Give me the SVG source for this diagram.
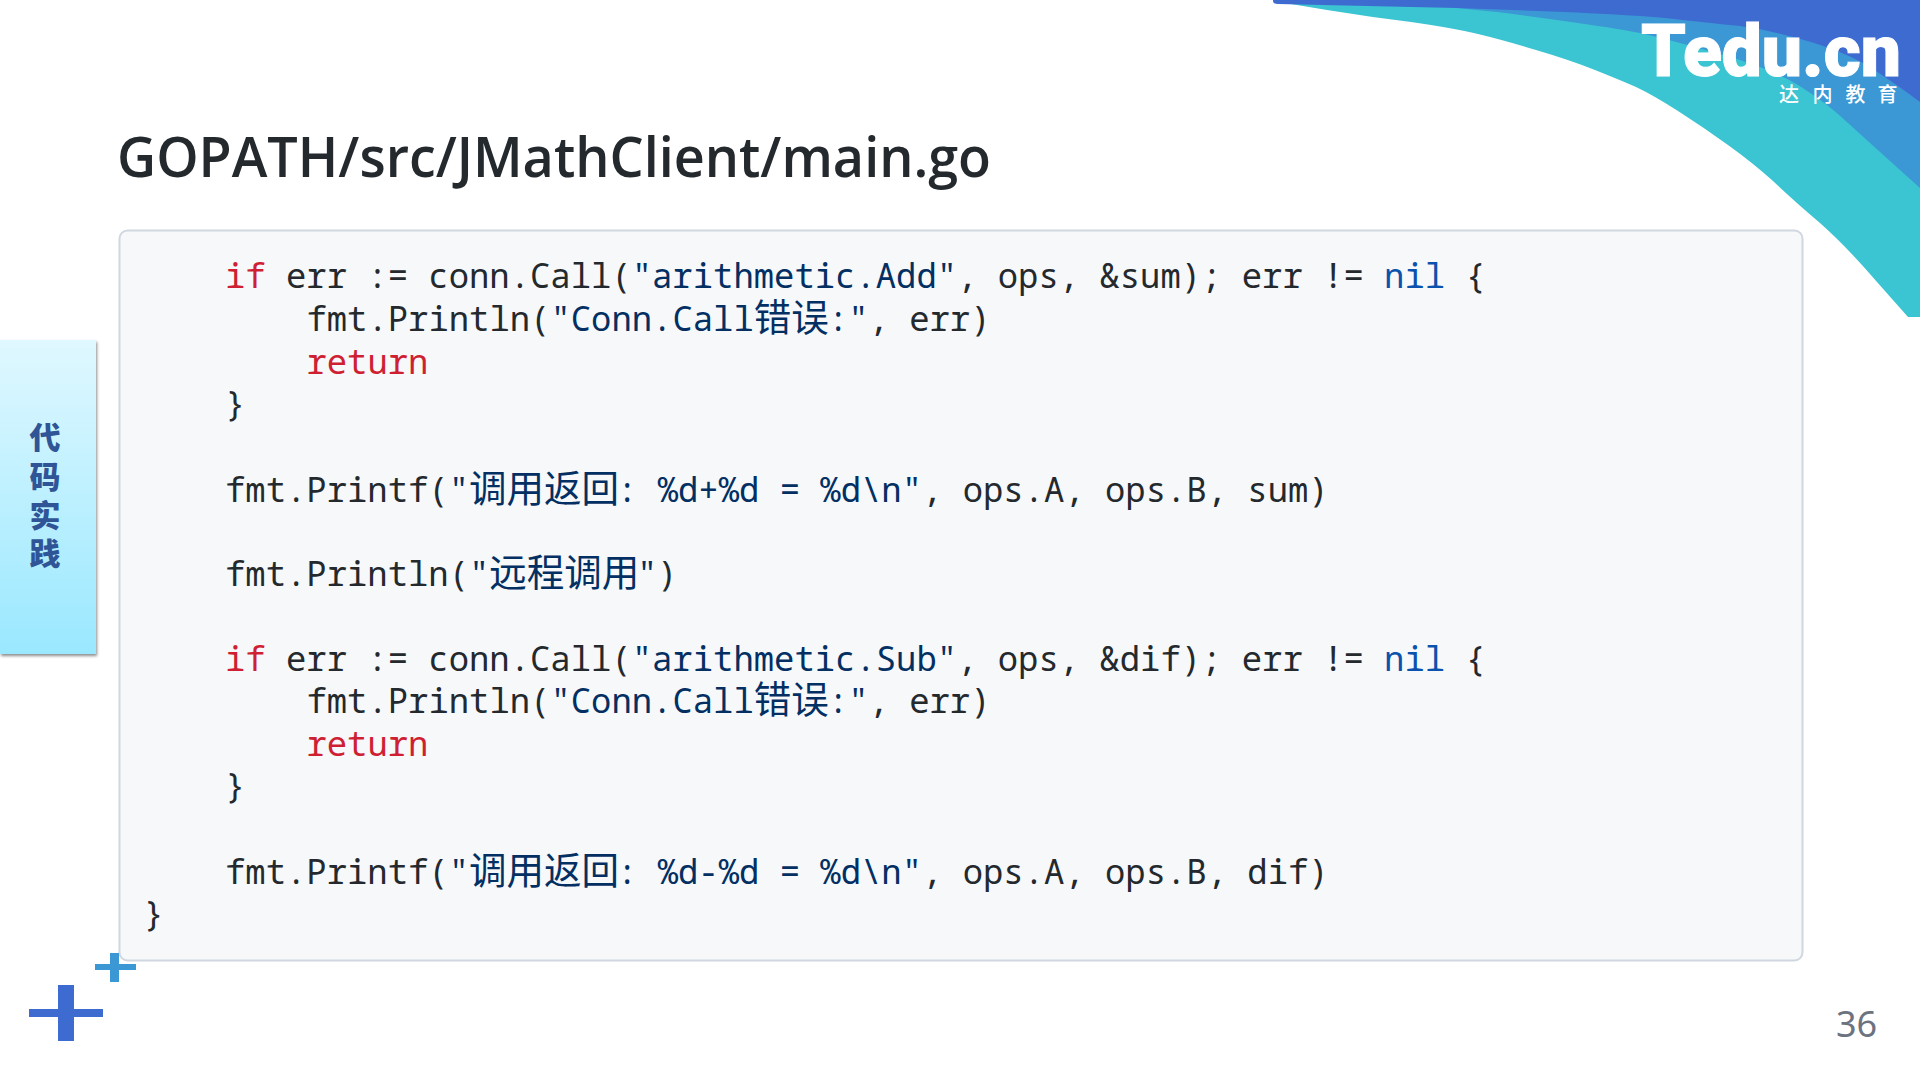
<svg xmlns="http://www.w3.org/2000/svg" width="1920" height="1080" viewBox="0 0 1920 1080">
<style>
.c{font-family:"Noto Sans Mono","DejaVu Sans Mono","Liberation Mono","Noto Sans CJK SC",monospace;font-size:33.9px;fill:#24292e;white-space:pre}
.k{fill:#cf1f33}.s{fill:#032f62}.n{fill:#0a52ad}
.z{font-family:"Noto Sans CJK SC",sans-serif;font-size:37.5px}
.t{font-family:"Noto Sans CJK SC",sans-serif;font-weight:900;font-size:31px;fill:#2f5597;text-anchor:middle}
.l{font-family:"Noto Sans CJK SC",sans-serif;font-weight:500;font-size:20px;fill:#fff;text-anchor:middle}
</style>
<defs>
<linearGradient id="tab" x1="0" y1="0" x2="0" y2="1"><stop offset="0" stop-color="#e0f8ff"/><stop offset="1" stop-color="#9ae8ff"/></linearGradient>
<filter id="sh" x="-20%" y="-5%" width="140%" height="110%"><feDropShadow dx="1" dy="2" stdDeviation="1.5" flood-color="#000" flood-opacity=".45"/></filter>
</defs>
<rect width="1920" height="1080" fill="#fff"/>
<g id="corner">
<path d="M1285 3L1327 10Q1370 17 1411 22Q1453 28 1478 34Q1503 40 1536 50Q1570 60 1595 70Q1620 80 1636 87Q1653 95 1678 111Q1703 127 1728 145Q1753 163 1773 181Q1793 200 1820 223Q1847 247 1877 282L1908 317H1920V0H1285Z" fill="#3bc4d1"/>
<path d="M1457 8L1497 12Q1537 17 1578 23Q1620 29 1645 34Q1670 40 1720 54Q1770 68 1798 85Q1827 103 1848 123Q1870 143 1920 188V0H1457Z" fill="#3b98d5"/>
<path d="M1273 0V1Q1273 4 1278 4L1457 8L1538 11Q1620 14 1665 18Q1710 23 1740 26Q1770 30 1811 42Q1853 55 1876 71Q1900 87 1920 102V0Z" fill="#3e6bd0"/>
</g>
<g id="logo">
<text x="1641" y="76" font-family="Roboto,sans-serif" font-weight="900" font-size="72" fill="#fff" stroke="#fff" stroke-width="1" textLength="260" lengthAdjust="spacingAndGlyphs">Tedu.cn</text>
<text class="l" x="1789" y="102">达</text><text class="l" x="1822.5" y="102">内</text><text class="l" x="1855.5" y="102">教</text><text class="l" x="1887.5" y="102">育</text>
</g>
<g id="title"><text x="117" y="177" font-family="'Open Sans','Noto Sans',sans-serif" font-weight="600" font-size="56" fill="#24292e" textLength="874" lengthAdjust="spacingAndGlyphs">GOPATH/src/JMathClient/main.go</text></g>
<g id="code-box">
<rect x="119.5" y="230.5" width="1683" height="730" rx="8" fill="#f6f8fa" stroke="#d0d7e0" stroke-width="2"/>
<text class="c" x="225" y="288" xml:space="preserve"><tspan class="k">if</tspan> err := conn.Call(<tspan class="s">"arithmetic.Add"</tspan>, ops, &amp;sum); err != <tspan class="n">nil</tspan> {</text>
<text class="c" x="306.4" y="330.5" xml:space="preserve">fmt.Println(<tspan class="s">"Conn.Call<tspan class="z">错误</tspan><tspan x="828">:"</tspan></tspan><tspan x="868.5">, err)</tspan></text>
<text class="c k" x="306.4" y="373.5" xml:space="preserve">return</text>
<text class="c" x="225" y="415.6" xml:space="preserve">}</text>
<text class="c" x="225" y="501.6" xml:space="preserve">fmt.Printf(<tspan class="s">"<tspan class="z">调用返回</tspan><tspan x="617">: %d+%d = %d\n"</tspan></tspan><tspan x="922">, ops.A, ops.B, sum)</tspan></text>
<text class="c" x="225" y="585.7" xml:space="preserve">fmt.Println(<tspan class="s">"<tspan class="z">远程调用</tspan><tspan x="637">"</tspan></tspan><tspan x="657">)</tspan></text>
<text class="c" x="225" y="670.8" xml:space="preserve"><tspan class="k">if</tspan> err := conn.Call(<tspan class="s">"arithmetic.Sub"</tspan>, ops, &amp;dif); err != <tspan class="n">nil</tspan> {</text>
<text class="c" x="306.4" y="713.3" xml:space="preserve">fmt.Println(<tspan class="s">"Conn.Call<tspan class="z">错误</tspan><tspan x="828">:"</tspan></tspan><tspan x="868.5">, err)</tspan></text>
<text class="c k" x="306.4" y="756.3" xml:space="preserve">return</text>
<text class="c" x="225" y="798.4" xml:space="preserve">}</text>
<text class="c" x="225" y="884.4" xml:space="preserve">fmt.Printf(<tspan class="s">"<tspan class="z">调用返回</tspan><tspan x="617">: %d-%d = %d\n"</tspan></tspan><tspan x="922">, ops.A, ops.B, dif)</tspan></text>
<text class="c" x="143.6" y="926" xml:space="preserve">}</text>
</g>
<g id="side-tab">
<rect x="0" y="340" width="96" height="314" fill="url(#tab)" filter="url(#sh)"/>
<text class="t" x="45" y="449">代</text><text class="t" x="45" y="488">码</text><text class="t" x="45" y="527">实</text><text class="t" x="45" y="565">践</text>
</g>
<g id="plus-marks">
<path d="M29 1009H58V985H74V1009H103V1017H74V1041H58V1017H29Z" fill="#3e6bd0"/>
<path d="M95 964H110V953H119V964H136V970H119V982H110V970H95Z" fill="#3b98d5"/>
</g>
<g id="page"><text x="1836" y="1037" font-family="'Noto Sans',sans-serif" font-size="36" fill="#6b7280">36</text></g>
</svg>
